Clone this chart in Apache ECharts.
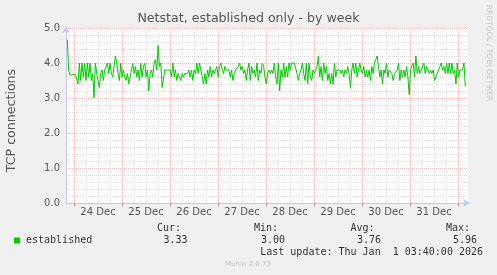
<!DOCTYPE html>
<html>
<head>
<meta charset="utf-8">
<script src="https://cdn.jsdelivr.net/npm/echarts@6/dist/echarts.min.js"></script>
<style>
html,body{margin:0;padding:0;background:#f0f0f0;}
#chart{width:497px;height:275px;}
</style>
</head>
<body>
<div id="chart"></div>
<script>
// ---- data ----
var titleText = 'Netstat, established only - by week';
var yAxisName = 'TCP connections';
var dayLabels = ['24 Dec', '25 Dec', '26 Dec', '27 Dec', '28 Dec', '29 Dec', '30 Dec', '31 Dec'];
var yTicks = [0, 1, 2, 3, 4, 5];
// hours relative to 24 Dec 00:00
var viewStartHour = -4;
var viewEndHour = 197;
var firstSampleHour = -3.35;
var lastSampleHour = 195.65;
var established = [
  4.67, 3.8, 3.65, 3.67, 3.67, 3.67, 3.67, 3.67, 3.4, 4.0,
  3.5, 4.0, 3.6, 4.0, 3.5, 4.0, 3.6, 4.0, 3.5, 3.7,
  3.0, 4.0, 3.7, 3.5, 3.3, 3.7, 3.8, 3.5, 3.8, 3.9,
  4.0, 3.7, 4.0, 3.7, 3.6, 3.9, 4.2, 4.0, 3.7, 3.5,
  4.0, 3.6, 3.8, 3.6, 3.5, 3.7, 3.4, 3.6, 3.8, 4.0,
  3.7, 3.9, 3.6, 3.8, 3.5, 4.0, 3.6, 3.9, 4.0, 3.6,
  3.8, 3.2, 3.7, 3.8, 3.6, 4.0, 4.1, 3.8, 4.5, 3.9,
  4.0, 3.3, 3.3, 3.8, 3.8, 3.8, 3.8, 3.8, 3.6, 4.0,
  3.6, 3.8, 3.5, 3.7, 3.6, 3.5, 3.7, 3.6, 3.7, 3.7,
  3.7, 3.8, 3.6, 3.8, 3.5, 3.8, 3.7, 4.0, 3.7, 4.0,
  4.0, 3.6, 3.4, 3.7, 3.4, 3.8, 3.6, 3.9, 3.6, 3.8,
  3.7, 3.8, 3.9, 3.6, 3.9, 4.0, 3.8, 3.7, 3.9, 3.8,
  3.8, 3.8, 3.6, 3.8, 3.5, 3.7, 3.8, 3.8, 3.9, 4.0,
  3.8, 3.9, 3.7, 3.8, 3.5, 3.8, 4.0, 3.5, 3.9, 3.7,
  3.8, 3.6, 4.0, 3.5, 3.8, 3.7, 4.0,
  3.9, 3.6, 3.4, 3.7, 3.8, 3.7, 3.8, 3.7, 4.0, 3.6,
  3.4, 4.0, 3.2, 3.8, 3.6, 4.0, 3.6, 3.9, 3.6, 4.0,
  3.8, 4.0, 4.0, 4.0, 4.0, 3.7, 3.5, 3.7, 3.8, 4.0,
  3.7, 3.5, 4.0, 3.4, 4.0, 3.6, 3.5, 3.8, 3.7, 3.7,
  3.9, 4.2, 3.6, 3.9, 3.5, 4.0, 3.7, 3.9, 3.5, 3.7,
  3.4, 3.7, 3.4, 4.0, 3.6, 3.8, 3.8, 3.8, 3.7, 3.8,
  3.6, 3.8, 3.7, 3.9, 3.7, 3.3, 3.8, 4.0, 3.7, 4.0,
  3.6, 3.8, 4.0, 3.8, 3.7, 3.9, 3.6, 3.8, 3.6, 3.8,
  3.5, 3.9, 3.7, 4.0, 4.1, 4.2, 3.9, 3.6, 3.8, 3.4,
  3.8, 3.7, 4.0, 3.6, 3.8, 3.8, 3.7, 3.5, 3.7, 3.7,
  3.8, 4.0, 3.5, 3.8, 3.6, 3.8, 3.6, 3.9, 3.6, 3.1,
  3.8, 3.9, 4.0, 3.6, 4.2, 3.7, 3.9, 3.7, 3.8, 3.8,
  4.0, 3.7, 3.9, 3.8, 3.7, 3.8, 3.7, 3.8, 3.5, 3.6,
  3.6, 3.8, 3.9, 4.0, 3.8, 3.9, 3.7, 4.0, 3.7, 4.0,
  3.7, 4.0, 3.7, 3.8, 3.4, 4.0, 3.6, 3.8, 3.8, 3.8,
  4.0, 3.33
];
var legendName = 'established';
var statHeads = ['Cur:', 'Min:', 'Avg:', 'Max:'];
var statValues = ['3.33', '3.00', '3.76', '5.96'];
var lastUpdate = 'Last update: Thu Jan  1 03:40:00 2026';
var footer = 'Munin 2.0.73';
var sideText = 'RRDTOOL / TOBI OETIKER';

// ---- build ----
var step = (lastSampleHour - firstSampleHour) / (established.length - 1);
var seriesData = established.map(function (v, i) { return [firstSampleHour + i * step, v]; });

var sans = 'DejaVu Sans';
var mono = 'DejaVu Sans Mono';
var gridGray = '#dcdcdc';
var gridRed = '#f2b4b4';
var axisCol = '#c4c8f4';
var plotTop = 28, plotH = 175;

function txt(x, y, s, opt) {
  opt = opt || {};
  return {
    type: 'text', x: x, y: y, rotation: opt.rot || 0, silent: true,
    style: {
      text: s, fill: opt.fill || '#555',
      font: (opt.size || 10) + 'px "' + (opt.family || sans) + '"',
      align: opt.align || 'left', textAlign: opt.align || 'left',
      verticalAlign: 'middle', textVerticalAlign: 'middle'
    }
  };
}

var graphics = [
  txt(248.5, 19, titleText, {size: 12.6, align: 'center'}),
  txt(12, 120.5, yAxisName, {size: 12.6, align: 'center', rot: Math.PI / 2}),
  txt(489, 53, sideText, {size: 7.5, align: 'center', rot: -Math.PI / 2, fill: '#c8c8c8'}),
  {type: 'rect', shape: {x: 14, y: 237.5, width: 6, height: 6}, style: {fill: '#00cc00'}, silent: true},
  txt(26, 240, legendName, {family: mono, align: 'left', fill: '#333'}),
  txt(483, 252, lastUpdate, {family: mono, align: 'right', fill: '#333'}),
  txt(248, 264.5, footer, {size: 7, align: 'center', fill: '#c4c4c4'})
];
var headRight = [181, 278, 374.5, 470];
var valRight = [187.5, 285, 381, 477];
for (var i = 0; i < statHeads.length; i++) {
  graphics.push(txt(headRight[i], 228, statHeads[i], {family: mono, align: 'right', fill: '#333'}));
  graphics.push(txt(valRight[i], 240, statValues[i], {family: mono, align: 'right', fill: '#333'}));
}

var chart = echarts.init(document.getElementById('chart'), null, {renderer: 'canvas'});
chart.setOption({
  animation: false,
  backgroundColor: '#f0f0f0',
  grid: [
    {left: 66, top: plotTop, width: 402, height: plotH, show: true, backgroundColor: '#ffffff', borderWidth: 0},
    {left: 74, top: plotTop, width: 384, height: plotH},
    {left: 98, top: plotTop, width: 336, height: plotH}
  ],
  xAxis: [
    {
      type: 'value', gridIndex: 0, min: viewStartHour, max: viewEndHour,
      axisLine: {show: true, onZero: false, lineStyle: {color: axisCol, width: 1},
        symbol: ['none', 'arrow'], symbolSize: [6, 7], symbolOffset: [0, 2]},
      axisTick: {show: false}, axisLabel: {show: false}, splitLine: {show: false}
    },
    {
      type: 'value', gridIndex: 1, min: 0, max: 192, interval: 24,
      axisLine: {show: false, onZero: false},
      axisTick: {show: true, length: 3, lineStyle: {color: '#f08080'}},
      axisLabel: {show: false},
      splitLine: {show: true, lineStyle: {color: gridRed, type: [1, 1], width: 1}},
      minorTick: {show: false, splitNumber: 4},
      minorSplitLine: {show: true, lineStyle: {color: gridGray, type: [1, 1], width: 1}}
    },
    {
      type: 'value', gridIndex: 2, min: 0, max: 168, interval: 24,
      axisLine: {show: false, onZero: false}, axisTick: {show: false}, splitLine: {show: false},
      axisLabel: {show: true, margin: 4, color: '#555', fontSize: 10, fontFamily: sans,
        showMinLabel: true, showMaxLabel: true,
        formatter: function (v) { return dayLabels[Math.round(v / 24)] || ''; }}
    }
  ],
  yAxis: [
    {
      type: 'value', gridIndex: 0, min: yTicks[0], max: yTicks[yTicks.length - 1], interval: 1,
      axisLine: {show: true, onZero: false, lineStyle: {color: axisCol, width: 1},
        symbol: ['none', 'arrow'], symbolSize: [6, 7], symbolOffset: [0, 2]},
      axisTick: {show: false},
      axisLabel: {show: true, margin: 6, color: '#555', fontSize: 10, fontFamily: sans,
        formatter: function (v) { return v.toFixed(1); }},
      splitLine: {show: true, lineStyle: {color: gridRed, type: [1, 1], width: 1}},
      minorTick: {show: false, splitNumber: 5},
      minorSplitLine: {show: true, lineStyle: {color: gridGray, type: [1, 1], width: 1}}
    },
    {type: 'value', gridIndex: 1, min: 0, max: 5, show: false},
    {type: 'value', gridIndex: 2, min: 0, max: 5, show: false}
  ],
  series: [{
    type: 'line', name: legendName, xAxisIndex: 0, yAxisIndex: 0,
    data: seriesData, showSymbol: false, symbol: 'none',
    lineStyle: {color: '#00cc00', width: 1}, z: 5
  }],
  graphic: graphics
});
</script>
</body>
</html>
